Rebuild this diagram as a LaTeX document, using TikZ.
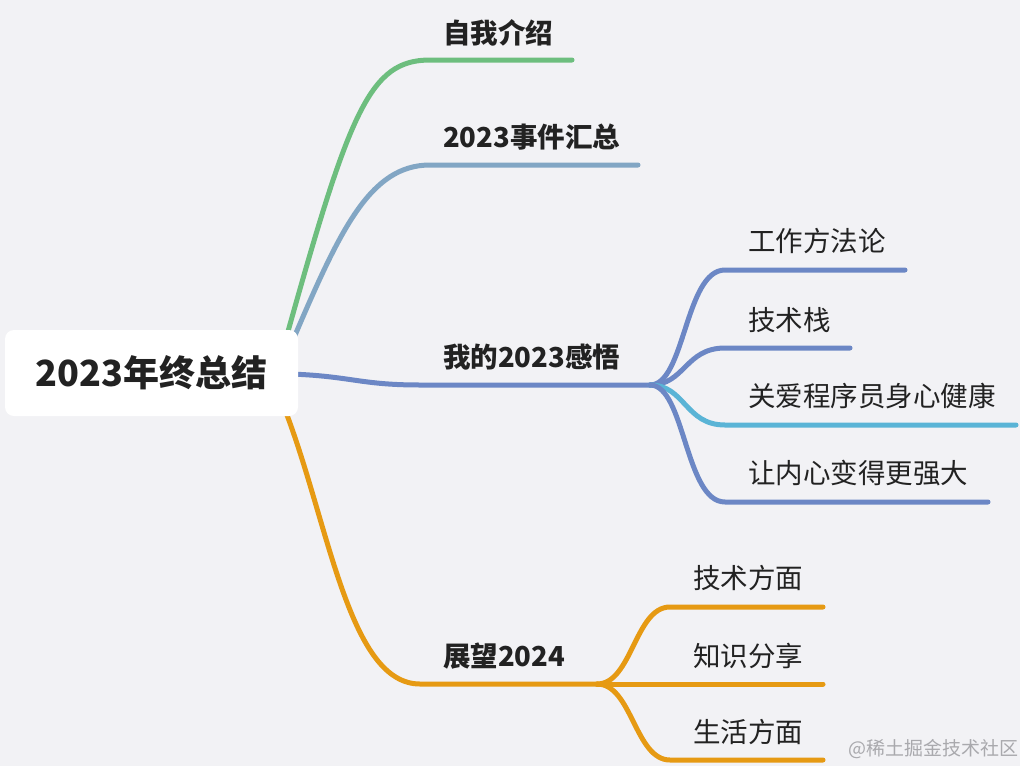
\documentclass[tikz,border=0pt]{standalone}
\usepackage{fontspec}
\setmainfont{Noto Sans CJK SC}
\usepackage{xcolor}
\usepackage{tikz}
\usetikzlibrary{positioning, calc, backgrounds}
\definecolor{bgcol}{HTML}{F2F2F5}
\definecolor{txtcol}{HTML}{222222}
\definecolor{cgreen}{HTML}{6DBE7E}
\definecolor{cgrayblue}{HTML}{82A6C4}
\definecolor{cblue}{HTML}{6C87C5}
\definecolor{ccyan}{HTML}{5AB4D6}
\definecolor{corange}{HTML}{E69A13}
\definecolor{cmark}{HTML}{A9A9AD}
\tikzset{
  root/.style  ={fill=white, rounded corners=9pt, minimum width=293pt,
                 minimum height=86pt, text=txtcol,
                 font=\fontsize{36}{40}\selectfont\bfseries},
  topic/.style ={anchor=west, inner sep=0pt, text=txtcol,
                 font=\fontsize{27.5}{32}\selectfont\bfseries},
  leaf/.style  ={anchor=west, inner sep=0pt, text=txtcol,
                 font=\fontsize{27.5}{32}\selectfont},
  branch/.style={line width=5pt, line cap=round},
  wmark/.style ={anchor=west, inner sep=0pt, text=cmark,
                 font=\fontsize{19}{22}\selectfont},
}

\begin{document}
\begin{tikzpicture}[x=1pt, y=-1pt]
  \useasboundingbox (0,0) rectangle (1020,766);
  \node[root] (root) at (151.5,373) {2023年终总结};
  % first level
  \node[topic] (intro)  at (443,33)  {自我介绍};
  \node[topic] (events) at (443,137) {2023事件汇总};
  \node[topic] (feel)   at (443,357) {我的2023感悟};
  \node[topic] (plan)   at (443,656) {展望2024};
  % second level
  \node[leaf] (method) at (748,241) {工作方法论};
  \node[leaf] (stack)  at (748,320) {技术栈};
  \node[leaf] (health) at (748,396) {关爱程序员身心健康};
  \node[leaf] (strong) at (748,473) {让内心变得更强大};
  \node[leaf] (tech)   at (693,578) {技术方面};
  \node[leaf] (share)  at (693,656) {知识分享};
  \node[leaf] (life)   at (693,732) {生活方面};
  \node[wmark] (wm) at (848,749) {@稀土掘金技术社区};
  % branch points
  \coordinate (root-g) at (287,335);
  \coordinate (root-b) at (293,340);
  \coordinate (root-m) at (290,374);
  \coordinate (root-o) at (287,415);
  \coordinate (hub-feel) at (650,385);
  \coordinate (hub-plan) at (597,684);
  \begin{scope}[on background layer]
    \fill[bgcol] (0,0) rectangle (1020,766);
    \draw[branch, cgreen]    (root-g) .. controls +(63,-225) and +(-60,0) .. (430,60) -- (572,60);
    \draw[branch, cgrayblue] (root-b) .. controls +(47,-110) and +(-60,0) .. (430,165) -- (638,165);
    \draw[branch, cblue]     (root-m) .. controls +(60,2) and +(-60,0) .. (420,385) -- (hub-feel);
    \draw[branch, corange]   (root-o) .. controls +(43,115) and +(-70,0) .. (420,684) -- (hub-plan);
    \foreach \y/\e/\c in {270/905/cblue, 348/850/cblue, 425/1016/ccyan, 502/988/cblue}
      \draw[branch, \c] (hub-feel) .. controls +(35,0) and +(-40,0) .. (725,\y) -- (\e,\y);
    \foreach \y in {607,684,760}
      \draw[branch, corange] (hub-plan) .. controls +(35,0) and +(-35,0) .. (670,\y) -- (823,\y);
  \end{scope}
\end{tikzpicture}
\end{document}
